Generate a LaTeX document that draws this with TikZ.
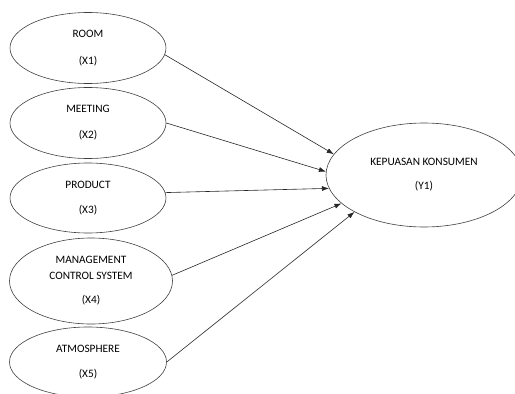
\documentclass[tikz,border=0pt]{standalone}
\usepackage{fontspec}
\setmainfont{Carlito}
\usetikzlibrary{shapes.geometric,arrows.meta}
\begin{document}
\begin{tikzpicture}[x=1pt,y=-1pt,
  latent/.style={draw=black!75,line width=0.6pt,ellipse,inner sep=0pt,align=center,font=\fontsize{11.3}{16}\selectfont},
  path/.style={draw=black!85,line width=0.6pt,-{Latex[length=7pt,width=5pt]}}]
\clip (0,0) rectangle (515,394);
\node[latent,minimum width=156,minimum height=71] (room) at (88,48) {ROOM\\[11pt](X1)};
\node[latent,minimum width=156,minimum height=71] (meeting) at (88,123) {MEETING\\[10pt](X2)};
\node[latent,minimum width=156,minimum height=70] (product) at (88,198) {PRODUCT\\[9pt](X3)};
\node[latent,minimum width=163,minimum height=86] (mcs) at (91,281) {MANAGEMENT\\[0pt]CONTROL SYSTEM\\[8pt](X4)};
\node[latent,minimum width=157,minimum height=70] (atmo) at (88,362) {ATMOSPHERE\\[9pt](X5)};
\node[latent,minimum width=196,minimum height=104] (kepuasan) at (424,175) {KEPUASAN KONSUMEN\\[8pt](Y1)};
% paths
\draw[path] (room.-5) -- (kepuasan.167);
\draw[path] (meeting.east) -- (kepuasan.178);
\draw[path] (product.4) -- (kepuasan.188);
\draw[path] (mcs.4) -- (kepuasan.199);
\draw[path] (atmo.east) -- (kepuasan.208);
\end{tikzpicture}
\end{document}
